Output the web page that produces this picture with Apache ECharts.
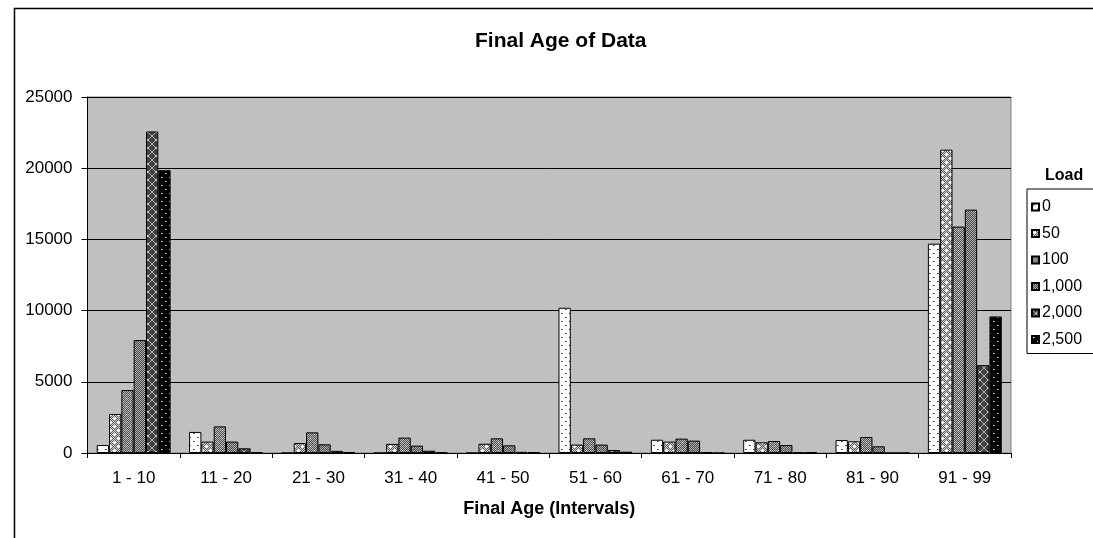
<!DOCTYPE html>
<html>
<head>
<meta charset="utf-8">
<script src="https://cdn.jsdelivr.net/npm/echarts@6.0.0/dist/echarts.min.js"></script>
<style>
html,body{margin:0;padding:0;background:#fff;}
#chart{width:1093px;height:538px;}
</style>
</head>
<body>
<div id="chart"></div>
<script>
const categories = ['1 - 10','11 - 20','21 - 30','31 - 40','41 - 50','51 - 60','61 - 70','71 - 80','81 - 90','91 - 99'];
const seriesNames = ['0','50','100','1,000','2,000','2,500'];
const load0    = [560, 1480, 0, 0, 0, 10200, 930, 930, 910, 14700];
const load50   = [2740, 800, 700, 640, 650, 590, 800, 750, 820, 21300];
const load100  = [4420, 1870, 1450, 1080, 1030, 1030, 1010, 840, 1120, 15900];
const load1000 = [7930, 800, 610, 520, 540, 590, 870, 560, 470, 17090];
const load2000 = [22580, 330, 150, 160, 80, 210, 70, 60, 0, 6170];
const load2500 = [19860, 70, 60, 60, 60, 90, 0, 60, 0, 9590];
const yTicks = [0, 5000, 10000, 15000, 20000, 25000];

function makePattern(draw){
  const c = document.createElement('canvas');
  c.width = 8; c.height = 8;
  const g = c.getContext('2d');
  draw(g);
  return {image: c, repeat: 'repeat'};
}
function px(g, x, y, col){ g.fillStyle = col; g.fillRect(x, y, 1, 1); }
function checker(g, a, b){
  for (let y=0;y<8;y++) for (let x=0;x<8;x++) px(g,x,y,((x+y)%2)?a:b);
}
const patterns = [
  makePattern(g=>{ g.fillStyle='#ffffff'; g.fillRect(0,0,8,8);
    px(g,1,1,'#303030'); px(g,2,1,'#808080'); px(g,5,5,'#303030'); px(g,6,5,'#808080'); }),
  makePattern(g=>{ checker(g,'#606060','#d0d0d0');
    [[2,2],[6,6]].forEach(([x,y])=>{ px(g,x,y,'#fff'); px(g,x-1,y,'#fff'); px(g,x+1,y,'#fff'); px(g,x,y-1,'#fff'); px(g,x,y+1,'#fff'); }); }),
  makePattern(g=>{ checker(g,'#505050','#b8b8b8'); px(g,2,2,'#ffffff'); px(g,6,6,'#ffffff'); }),
  makePattern(g=>{ checker(g,'#484848','#b0b0b0'); }),
  makePattern(g=>{ g.fillStyle='#404040'; g.fillRect(0,0,8,8);
    for (let i=0;i<8;i++){ px(g,i,i,'#b0b0b0'); px(g,7-i,i,'#b0b0b0'); }
    px(g,3,3,'#e0e0e0'); px(g,4,4,'#e0e0e0'); }),
  makePattern(g=>{ g.fillStyle='#000000'; g.fillRect(0,0,8,8);
    px(g,1,1,'#ffffff'); px(g,5,5,'#d0d0d0'); px(g,2,1,'#808080'); px(g,6,5,'#808080'); })
];
const dataSets = [load0, load50, load100, load1000, load2000, load2500];

const font = '"Liberation Sans", Arial, sans-serif';
const chart = echarts.init(document.getElementById('chart'), null, {renderer:'canvas'});
chart.setOption({
  animation: false,
  backgroundColor: '#ffffff',
  title: [
    {text: 'Final Age of Data', left: 470, top: 26,
     textStyle: {fontFamily: font, fontSize: 21, fontWeight: 'bold', color: '#000'}},
    {text: 'Load', left: 1040, top: 163,
     textStyle: {fontFamily: font, fontSize: 16, fontWeight: 'bold', color: '#000'}}
  ],
  graphic: [
    {type: 'rect', left: 12, top: 6, shape: {x: 0, y: 0, width: 1200, height: 700},
     style: {fill: null, stroke: '#000', lineWidth: 1.5}, silent: true, z: 100}
  ],
  legend: {
    orient: 'vertical', left: 1027, top: 189,
    padding: [10, 40, 6, 4], itemGap: 10.5,
    itemWidth: 7, itemHeight: 7,
    borderColor: '#000', borderWidth: 1,
    textStyle: {fontFamily: font, fontSize: 16, color: '#000', padding: [0,0,0,-2]},
    data: seriesNames,
    icon: 'rect'
  },
  grid: {left: 87.5, right: 82, top: 97, bottom: 85, show: true,
    backgroundColor: '#c0c0c0', borderColor: '#808080', borderWidth: 1},
  xAxis: {
    type: 'category', data: categories,
    name: 'Final Age (Intervals)', nameLocation: 'middle', nameGap: 47,
    nameTextStyle: {fontFamily: font, fontSize: 18, fontWeight: 'bold', color: '#000', verticalAlign: 'top'},
    axisLine: {lineStyle: {color: '#000', width: 1}},
    axisTick: {show: true, length: 5, interval: 0, lineStyle: {color: '#000'}},
    axisLabel: {fontFamily: font, fontSize: 17, color: '#000', margin: 17, interval: 0}
  },
  yAxis: {
    type: 'value', min: yTicks[0], max: yTicks[yTicks.length-1], interval: 5000,
    axisLine: {show: true, lineStyle: {color: '#000', width: 1}},
    axisTick: {show: true, length: 6, lineStyle: {color: '#000'}},
    axisLabel: {fontFamily: font, fontSize: 17, color: '#000', margin: 15,
      formatter: v => String(v)},
    splitLine: {show: true, lineStyle: {color: '#000', width: 1}}
  },
  series: dataSets.map((d, i) => ({
    name: seriesNames[i], type: 'bar', data: d,
    barGap: '0%', barCategoryGap: '20%',
    itemStyle: {color: patterns[i], borderColor: '#000', borderWidth: 1}
  }))
});
</script>
</body>
</html>
